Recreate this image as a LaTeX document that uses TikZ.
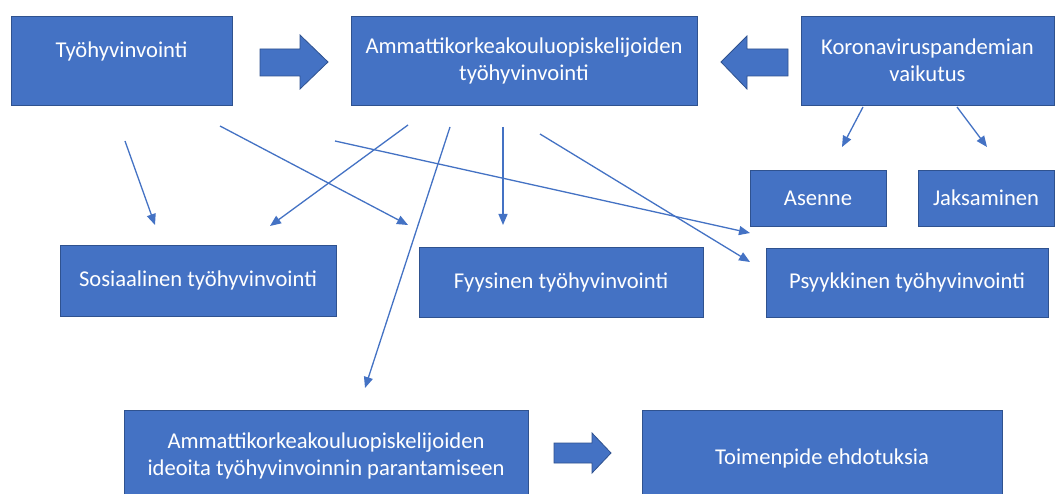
\documentclass[tikz,border=0pt]{standalone}
\usepackage{fontspec}
\setmainfont{Carlito}
\usetikzlibrary{arrows.meta}
\definecolor{boxblue}{HTML}{4472C4}
\definecolor{boxline}{HTML}{2F528F}
\definecolor{linkblue}{HTML}{4472C4}
\tikzset{
  box/.style={draw=boxline, fill=boxblue, line width=0.8pt, text=white, inner sep=0pt,
    align=center, font=\fontsize{22.6}{27}\selectfont},
  link/.style={draw=linkblue, line width=1.3pt, -{Triangle[length=11pt,width=9pt]}},
  fatarrow/.style={draw=boxline, fill=boxblue, line width=0.8pt, line join=miter}
}
\begin{document}
\begin{tikzpicture}[x=1pt,y=-1pt]
\useasboundingbox (0,0) rectangle (1056,494);
\clip (0,0) rectangle (1056,494);
\fill[white] (0,0) rectangle (1056,494);
% boxes
\node[box, minimum width=221pt, minimum height=89pt] (tyo) at (121.5,60.5) {Työhyvinvointi\\[-6pt]\mbox{}};
\node[box, minimum width=346pt, minimum height=89pt] (amk) at (524,60.5) {Ammattikorkeakouluopiskelijoiden\\työhyvinvointi};
\node[box, minimum width=253pt, minimum height=89pt] (kor) at (927.5,60.5) {Koronaviruspandemian\\vaikutus};
\node[box, minimum width=136pt, minimum height=56pt] (ase) at (818,198) {Asenne};
\node[box, minimum width=136pt, minimum height=56pt] (jak) at (986,198) {Jaksaminen};
\node[box, minimum width=276pt, minimum height=71pt] (sos) at (198,280.5) {Sosiaalinen työhyvinvointi};
\node[box, minimum width=284pt, minimum height=70pt] (fyy) at (561,282) {Fyysinen työhyvinvointi};
\node[box, minimum width=282pt, minimum height=69pt] (psy) at (907,282.5) {Psyykkinen työhyvinvointi};
\node[box, minimum width=404pt, minimum height=92pt] (ide) at (326,456) {Ammattikorkeakouluopiskelijoiden\\ideoita työhyvinvoinnin parantamiseen};
\node[box, minimum width=360pt, minimum height=96pt] (toi) at (822,458) {Toimenpide ehdotuksia};
% fat arrows
\draw[fatarrow] (260,49) -- (300,49) -- (300,35) -- (328,62) -- (300,89) -- (300,76) -- (260,76) -- cycle;
\draw[fatarrow] (788,49) -- (747,49) -- (747,36) -- (721,62) -- (747,89) -- (747,76) -- (788,76) -- cycle;
\draw[fatarrow] (554,443) -- (592,443) -- (592,433) -- (611,453) -- (592,473) -- (592,463) -- (554,463) -- cycle;
% connector end points
\coordinate (a1) at (125,141);  \coordinate (a2) at (155,225);
\coordinate (b1) at (220,126);  \coordinate (b2) at (408,225);
\coordinate (c1) at (408,125);  \coordinate (c2) at (270,226);
\coordinate (d1) at (450,127);  \coordinate (d2) at (365,388);
\coordinate (e1) at (503,127);  \coordinate (e2) at (503,225);
\coordinate (f1) at (540,134);  \coordinate (f2) at (750,262);
\coordinate (g1) at (335,141);  \coordinate (g2) at (750,233);
\coordinate (h1) at (863,107);  \coordinate (h2) at (842,147);
\coordinate (i1) at (957,107);  \coordinate (i2) at (987,147);
% connectors
\draw[link] (a1) -- (a2);
\draw[link] (b1) -- (b2);
\draw[link] (c1) -- (c2);
\draw[link] (d1) -- (d2);
\draw[link] (e1) -- (e2);
\draw[link] (f1) -- (f2);
\draw[link] (g1) -- (g2);
\draw[link] (h1) -- (h2);
\draw[link] (i1) -- (i2);
\end{tikzpicture}
\end{document}
